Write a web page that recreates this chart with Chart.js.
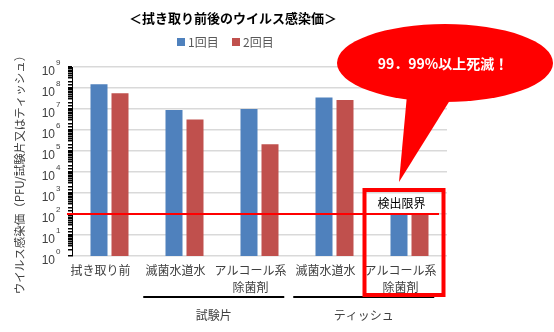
<!DOCTYPE html>
<html lang="ja">
  <head>
    <meta charset="UTF-8" />
    <title>拭き取り前後のウイルス感染価</title>
    <style>
      html, body { margin: 0; padding: 0; background: #fff; }
      .wrap { width: 554px; height: 332px; position: relative; }
    </style>
  </head>
  <body>
    <div class="wrap">
      <canvas id="virus" width="554" height="332"></canvas>
    </div>

    <script src="https://cdn.jsdelivr.net/npm/chart.js"></script>
    <script>
      // data
      const categories = [
        ['拭き取り前'],
        ['滅菌水道水'],
        ['アルコール系', '除菌剤'],
        ['滅菌水道水'],
        ['アルコール系', '除菌剤'],
      ];
      const round1 = [1.5e8, 9e6, 1e7, 3.5e7, 100];
      const round2 = [5.6e7, 3.2e6, 2.1e5, 2.7e7, 100];
      const seriesNames = ['1回目', '2回目'];
      const yExponents = [0, 1, 2, 3, 4, 5, 6, 7, 8, 9];
      const detectionLimit = 100;
      const groupNames = ['試験片', 'ティッシュ'];
      const groupRanges = [[1, 2], [3, 4]];

      const BLUE = '#4F81BD';
      const RED = '#C0504D';
      const FONT = '"Noto Sans CJK JP", "Liberation Sans", sans-serif';

      const isDecade = (v) => {
        const e = Math.log10(v);
        return Math.abs(e - Math.round(e)) < 1e-9;
      };

      const extras = {
        id: 'extras',
        afterDraw(chart) {
          const { ctx, scales } = chart;
          const x = scales.x;
          const y = scales.y;
          ctx.save();

          // title
          ctx.fillStyle = '#000';
          ctx.font = 'bold 13px ' + FONT;
          ctx.textAlign = 'center';
          ctx.textBaseline = 'middle';
          ctx.fillText('＜拭き取り前後のウイルス感染価＞', 233, 18);

          // legend
          const legendX = [177, 232];
          [BLUE, RED].forEach((c, i) => {
            ctx.fillStyle = c;
            ctx.fillRect(legendX[i], 38, 8, 8);
            ctx.fillStyle = '#595959';
            ctx.font = '12px ' + FONT;
            ctx.textAlign = 'left';
            ctx.fillText(seriesNames[i], legendX[i] + 11, 42.5);
          });

          // y tick labels 10^n
          yExponents.forEach((e) => {
            const py = y.getPixelForValue(Math.pow(10, e));
            ctx.fillStyle = '#404040';
            ctx.font = '12px "Liberation Sans", sans-serif';
            ctx.textAlign = 'right';
            ctx.fillText('10', 55, py + 5);
            ctx.font = '8px "Liberation Sans", sans-serif';
            ctx.textAlign = 'left';
            ctx.fillText(String(e), 56, py - 4);
          });

          // y axis title
          ctx.save();
          ctx.translate(20, 172);
          ctx.rotate(-Math.PI / 2);
          ctx.fillStyle = '#404040';
          ctx.font = '11.5px ' + FONT;
          ctx.textAlign = 'center';
          ctx.fillText('ウイルス感染価（PFU/試験片又はティッシュ）', 0, 0);
          ctx.restore();

          // detection limit line
          const ly = y.getPixelForValue(detectionLimit);
          ctx.strokeStyle = '#FF0000';
          ctx.lineWidth = 2;
          ctx.beginPath();
          ctx.moveTo(x.left - 5, ly);
          ctx.lineTo(x.right - 8, ly);
          ctx.stroke();

          // group brackets
          const step = x.getPixelForValue(1) - x.getPixelForValue(0);
          groupRanges.forEach((r, i) => {
            const a = x.getPixelForValue(r[0]) - step * 0.55;
            const b = x.getPixelForValue(r[1]) + step * 0.33;
            ctx.strokeStyle = '#000';
            ctx.lineWidth = 2;
            ctx.beginPath();
            ctx.moveTo(a, 297);
            ctx.lineTo(b, 297);
            ctx.stroke();
            ctx.fillStyle = '#404040';
            ctx.font = '12px ' + FONT;
            ctx.textAlign = 'center';
            ctx.fillText(groupNames[i], (a + b) / 2, 315);
          });

          // red box around last category
          const cx = x.getPixelForValue(4);
          ctx.strokeStyle = '#FF0000';
          ctx.lineWidth = 4;
          ctx.strokeRect(cx - 45, 190, 79, 105);
          ctx.fillStyle = '#000';
          ctx.font = '12px ' + FONT;
          ctx.textAlign = 'center';
          ctx.fillText('検出限界', cx - 8, 203);

          // speech bubble
          ctx.fillStyle = '#FF0000';
          ctx.beginPath();
          ctx.ellipse(445, 63, 108, 39, 0, 0, Math.PI * 2);
          ctx.fill();
          ctx.beginPath();
          ctx.moveTo(407, 95);
          ctx.lineTo(399, 182);
          ctx.lineTo(452, 97);
          ctx.closePath();
          ctx.fill();
          ctx.fillStyle = '#fff';
          ctx.font = 'bold 14px ' + FONT;
          ctx.textAlign = 'center';
          ctx.fillText('99．99%以上死滅！', 443, 64);

          ctx.restore();
        },
      };

      new Chart(document.getElementById('virus'), {
        type: 'bar',
        data: {
          labels: categories,
          datasets: [
            { label: seriesNames[0], data: round1, backgroundColor: BLUE },
            { label: seriesNames[1], data: round2, backgroundColor: RED },
          ],
        },
        options: {
          responsive: false,
          animation: false,
          events: [],
          layout: { padding: { left: 0, right: 107, top: 67, bottom: 0 } },
          datasets: {
            bar: { categoryPercentage: 0.56, barPercentage: 0.81 },
          },
          plugins: {
            legend: { display: false },
            title: { display: false },
            tooltip: { enabled: false },
          },
          scales: {
            x: {
              grid: { display: false, drawTicks: false },
              border: { display: false },
              ticks: {
                padding: 6,
                labelOffset: -9,
                color: '#404040',
                font: { family: FONT, size: 12, lineHeight: 1.4 },
                maxRotation: 0,
                autoSkip: false,
              },
              afterFit(s) { s.height = 76; },
            },
            y: {
              type: 'logarithmic',
              min: 1,
              max: 1e9,
              ticks: { display: false, autoSkip: false },
              grid: {
                color: (c) => (c.tick && isDecade(c.tick.value) ? '#D9D9D9' : 'rgba(0,0,0,0)'),
                lineWidth: 1.5,
                tickColor: '#000',
                tickLength: 4,
              },
              border: { display: true, color: '#000', width: 1 },
              afterFit(s) { s.width = 72; },
            },
          },
        },
        plugins: [extras],
      });
    </script>
  </body>
</html>
